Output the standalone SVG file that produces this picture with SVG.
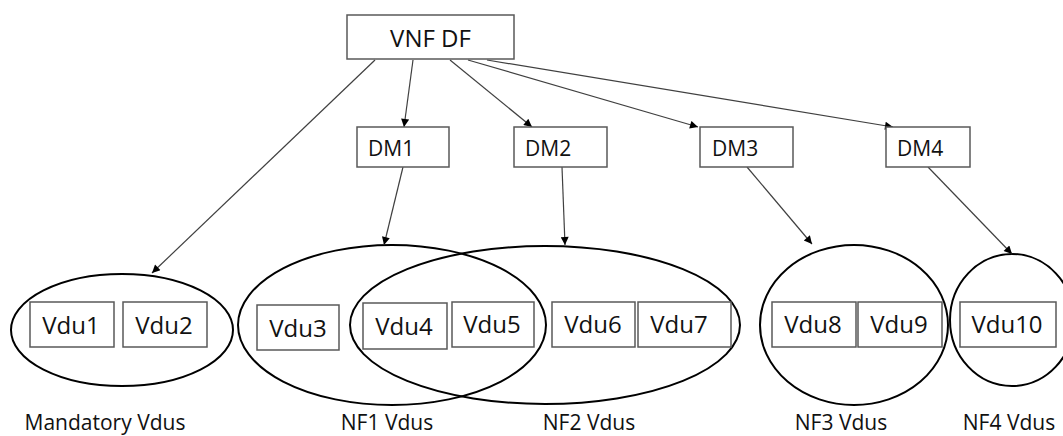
<svg xmlns="http://www.w3.org/2000/svg" width="1063" height="436" viewBox="0 0 1063 436">
<style>
.box{fill:#fff;stroke:#595959;stroke-width:1.5}
.ell{fill:none;stroke:#000;stroke-width:2}
.con{fill:none;stroke:#404040;stroke-width:1.2;marker-end:url(#arr)}
text{font-family:"Open Sans","Liberation Sans",sans-serif;fill:#111}
.big{font-size:24px;text-anchor:middle}
.dm{font-size:21px}
.vdu{font-size:24px;text-anchor:middle}
.lbl{font-size:21px;text-anchor:middle}
</style>
<defs>
<marker id="arr" viewBox="0 0 10 10" refX="10" refY="5" markerWidth="10" markerHeight="8" markerUnits="userSpaceOnUse" orient="auto">
<path d="M0,0 L10,5 L0,10 z" fill="#000"/>
</marker>
</defs>
<g id="ellipses">
<ellipse id="mandatory" class="ell" cx="122" cy="330" rx="111" ry="56"/>
<ellipse id="nf1" class="ell" cx="392" cy="325" rx="154" ry="80"/>
<ellipse id="nf2" class="ell" cx="545" cy="325" rx="195" ry="79"/>
<ellipse id="nf3" class="ell" cx="854" cy="325" rx="94" ry="80"/>
<ellipse id="nf4" class="ell" cx="1012" cy="320" rx="62" ry="66"/>
</g>
<g id="connectors">
<line class="con" x1="375" y1="60" x2="152" y2="273"/>
<line class="con" x1="413" y1="60" x2="404" y2="127"/>
<line class="con" x1="450" y1="60" x2="532" y2="127"/>
<line class="con" x1="468" y1="60" x2="698" y2="127"/>
<line class="con" x1="487" y1="60" x2="893" y2="127"/>
<line class="con" x1="403" y1="167" x2="384" y2="245"/>
<line class="con" x1="562" y1="167" x2="565" y2="245"/>
<line class="con" x1="747" y1="167" x2="812" y2="244"/>
<line class="con" x1="928" y1="167" x2="1012" y2="254"/>
</g>
<g id="vnfdf"><rect class="box" x="347" y="15" width="167" height="44"/><text class="big" x="430.5" y="47">VNF DF</text></g>
<g id="dm1"><rect class="box" x="357" y="127" width="92" height="40"/><text class="dm" x="368" y="156">DM1</text></g>
<g id="dm2"><rect class="box" x="514" y="127" width="93" height="40"/><text class="dm" x="525" y="156">DM2</text></g>
<g id="dm3"><rect class="box" x="700" y="127" width="93" height="40"/><text class="dm" x="712" y="156">DM3</text></g>
<g id="dm4"><rect class="box" x="886" y="127" width="84" height="40"/><text class="dm" x="897" y="156">DM4</text></g>
<g id="vdu1"><rect class="box" x="30" y="302" width="84" height="45"/><text class="vdu" x="71" y="334">Vdu1</text></g>
<g id="vdu2"><rect class="box" x="123" y="302" width="84" height="45"/><text class="vdu" x="164" y="334">Vdu2</text></g>
<g id="vdu3"><rect class="box" x="257" y="305" width="82" height="45"/><text class="vdu" x="298" y="337">Vdu3</text></g>
<g id="vdu4"><rect class="box" x="363" y="303" width="84" height="46"/><text class="vdu" x="404" y="335">Vdu4</text></g>
<g id="vdu5"><rect class="box" x="452" y="302" width="82" height="45"/><text class="vdu" x="492" y="333">Vdu5</text></g>
<g id="vdu6"><rect class="box" x="552" y="302" width="83" height="45"/><text class="vdu" x="593" y="333">Vdu6</text></g>
<g id="vdu7"><rect class="box" x="638" y="302" width="93" height="45"/><text class="vdu" x="679" y="333">Vdu7</text></g>
<g id="vdu8"><rect class="box" x="772" y="302" width="84" height="45"/><text class="vdu" x="813" y="333">Vdu8</text></g>
<g id="vdu9"><rect class="box" x="858" y="302" width="84" height="45"/><text class="vdu" x="899" y="333">Vdu9</text></g>
<g id="vdu10"><rect class="box" x="960" y="302" width="96" height="45"/><text class="vdu" x="1007" y="333">Vdu10</text></g>
<g id="labels">
<text class="lbl" x="105" y="430">Mandatory Vdus</text>
<text class="lbl" x="387" y="430">NF1 Vdus</text>
<text class="lbl" x="589" y="430">NF2 Vdus</text>
<text class="lbl" x="841" y="430">NF3 Vdus</text>
<text class="lbl" x="1009" y="430">NF4 Vdus</text>
</g>
</svg>
